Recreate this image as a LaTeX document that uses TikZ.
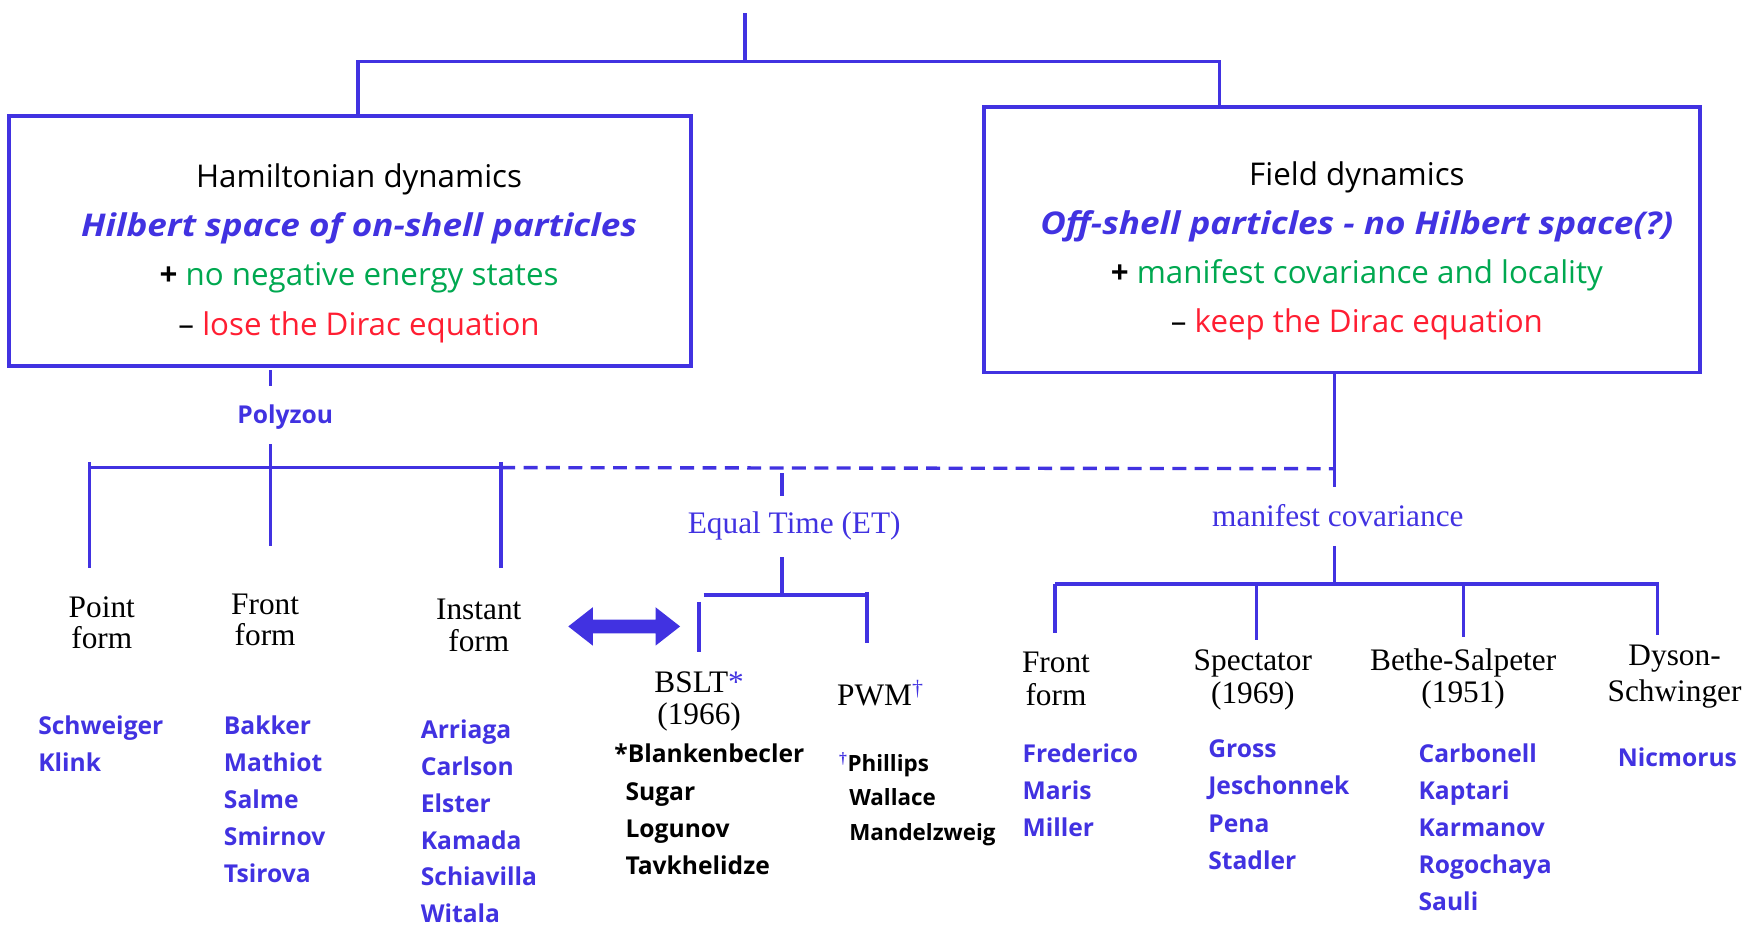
\documentclass[tikz,border=0pt]{standalone}
\usepackage{fontspec}
\setmainfont{Liberation Serif}
\newfontfamily\comicfont{Open Sans}
\newfontfamily\comicwide[FakeStretch=1.12]{Open Sans}
\usetikzlibrary{shapes.arrows}
\definecolor{lineblue}{RGB}{65,50,225}
\definecolor{plusgreen}{RGB}{0,168,80}
\definecolor{minusred}{RGB}{255,30,50}

\begin{document}
\begin{tikzpicture}[x=1pt,y=-1pt]
%%%%%%%%%%%%%%%%%%%%%%%%%%%%%%%%%%%%%%%%%%%%%%%%%%%%%%%%%%%%%%
%styles
\tikzstyle{bigbox}=[rectangle,draw=lineblue,line width=3.5pt,inner sep=0pt]
\tikzstyle{boxtext}=[align=center,anchor=north,inner sep=0pt,font=\comicfont\fontsize{28}{44}\selectfont]
\tikzstyle{branch}=[draw=lineblue,line width=3pt]
\tikzstyle{form}=[align=center,inner sep=0pt,font=\fontsize{28}{29}\selectfont]
\tikzstyle{bluelabel}=[text=lineblue,inner sep=0pt,font=\fontsize{28}{28}\selectfont]
\tikzstyle{author}=[anchor=base west,text=lineblue,inner sep=0pt,font=\comicfont\bfseries\fontsize{22}{22}\selectfont]
\tikzstyle{bauthor}=[author,text=black]
\tikzstyle{pauthor}=[bauthor,font=\comicfont\bfseries\fontsize{20}{20}\selectfont]
\useasboundingbox (0,0) rectangle (1568,833);
%%%%%%%%%%%%%%%%%%%%%%%%%%%%%%%%%%%%%%%%%%%%%%%%%%%%%%%%%%%%%%
%boxes
\node[bigbox,minimum width=610pt,minimum height=223pt] (hambox) at (313,215.5) {};
\node[bigbox,minimum width=640pt,minimum height=237pt] (fldbox) at (1200,214.5) {};
\node[boxtext] (hamtext) at (321,146) {Hamiltonian dynamics\\
  {\comicwide\color{lineblue}\bfseries\itshape Hilbert space of on-shell particles}\\
  \textbf{+} {\color{plusgreen}no negative energy states}\\
  – {\color{minusred}lose the Dirac equation}};
\node[boxtext] (fldtext) at (1213,144) {Field dynamics\\
  {\comicwide\color{lineblue}\bfseries\itshape Off-shell particles - no Hilbert space(?)}\\
  \textbf{+} {\color{plusgreen}manifest covariance and locality}\\
  – {\color{minusred}keep the Dirac equation}};
%%labels
\node[author] (polyzou) at (212,379) {Polyzou};
\node[bluelabel] (equaltime) at (710,470) {Equal Time (ET)};
\node[bluelabel] (mancov) at (1196,461) {manifest covariance};
%forms
\node[form,font=\fontsize{28}{28}\selectfont] (pointform) at (91,557) {Point\\form};
\node[form,font=\fontsize{28}{28}\selectfont] (frontform) at (237,554) {Front\\form};
\node[form,font=\fontsize{28}{28}\selectfont] (instform) at (428,559) {Instant\\form};
\node[form] (bslt) at (625,627) {BSLT{\color{lineblue}*}\\(1966)};
\node[form] (pwm) at (787,620) {PWM\textsuperscript{\color{lineblue}†}};
\node[form] (lcform) at (944,607) {Front\\form};
\node[form] (spect) at (1120,608) {Spectator\\(1969)};
\node[form] (bethe) at (1308,607) {Bethe-Salpeter\\(1951)};
\node[form,font=\fontsize{28}{32}\selectfont] (dyson) at (1497,605) {Dyson-\\Schwinger};
%names
\foreach \who [count=\i] in {Schweiger,Klink}
  \node[author] (point\i) at (34,{624+33*\i}) {\who};
\foreach \who [count=\i] in {Bakker,Mathiot,Salme,Smirnov,Tsirova}
  \node[author] (front\i) at (200,{624+33*\i}) {\who};
\foreach \who [count=\i] in {Arriaga,Carlson,Elster,Kamada,Schiavilla,Witala}
  \node[author] (inst\i) at (376,{627+33*\i}) {\who};
\node[bauthor] (bslt1) at (549,682) {*Blankenbecler};
\foreach \who [count=\i] in {Sugar,Logunov,Tavkhelidze}
  \node[bauthor] (bslt\i) at (559,{683+33*\i}) {\who};
\node[pauthor] (pwm1) at (750,690) {\textsuperscript{\color{lineblue}\rmfamily†}Phillips};
\foreach \who [count=\i] in {Wallace,Mandelzweig}
  \node[pauthor] (pwm\i) at (759,{690+30.5*\i}) {\who};
\foreach \who [count=\i] in {Frederico,Maris,Miller}
  \node[author] (lc\i) at (914,{649+33*\i}) {\who};
\foreach \who [count=\i] in {Gross,Jeschonnek,Pena,Stadler}
  \node[author] (spect\i) at (1080,{644+33.3*\i}) {\who};
\foreach \who [count=\i] in {Carbonell,Kaptari,Karmanov,Rogochaya,Sauli}
  \node[author] (bethe\i) at (1268,{649+33*\i}) {\who};
\node[author] (dyson1) at (1446,685) {Nicmorus};
%%%%%%%%%%%%%%%%%%%%%%%%%%%%%%%%%%%%%%%%%%%%%%%%%%%%%%%%%%%%%%
%TREE
\coordinate (root) at (666,12);
\coordinate (rootsplit) at (666,55);
\draw[branch] (root) -- (rootsplit);
\draw[branch] ([xshift=7pt]hambox.north) |- (rootsplit) -| ([xshift=-110pt]fldbox.north);
%hamiltonian side
\coordinate (hamfoot) at (242,331);
\coordinate (polyup) at (242,345);
\coordinate (polydown) at (242,397);
\coordinate (hamfork) at (242,418);
\coordinate (frontleg) at (242,488);
\coordinate (pointtop) at (80,413);
\coordinate (pointleg) at (80,508);
\coordinate (instfork) at (448,418);
\coordinate (insttop) at (448,413);
\coordinate (instleg) at (448,508);
\draw[branch] (hamfoot) -- (polyup);
\draw[branch] (polydown) -- (frontleg);
\draw[branch] (pointtop) -- (pointleg);
\draw[branch] (insttop) -- (instleg);
\draw[branch] (pointtop |- hamfork) -- (instfork);
%field side
\coordinate (fldfoot) at (1193,435);
\coordinate (fldjoin) at (1193,419);
\draw[branch] ([xshift=-7pt]fldbox.south) -- (fldfoot);
\draw[branch,dash pattern=on 12.5pt off 7.5pt] (instfork) -- (fldjoin);
%equal time
\coordinate (ettop) at (699,423);
\coordinate (etup) at (699,443);
\coordinate (etdown) at (699,498);
\coordinate (etfork) at (699,532);
\draw[branch] (ettop) -- (etup);
\draw[branch] (etdown) -- (etfork);
\draw[branch] (629,532) -- (773,532);
\draw[branch] (625,538) -- (625,583);
\draw[branch] (775,529) -- (775,575);
%covariant
\coordinate (covdown) at (1193,488);
\coordinate (covfork) at (1193,522);
\draw[branch] (covdown) -- (covfork);
\draw[branch] (943,522) -- (1483,522);
\draw[branch] (943,522) -- (943,566);
\draw[branch] (1123,522) -- (1123,572);
\draw[branch] (1308,522) -- (1308,569);
\draw[branch] (1482,522) -- (1482,568);
%ARROW
\node[double arrow,fill=lineblue,draw=none,inner sep=6pt,minimum height=100pt,
  double arrow head extend=11pt,double arrow tip angle=76] (swap) at (558,560) {};
\end{tikzpicture}
\end{document}
